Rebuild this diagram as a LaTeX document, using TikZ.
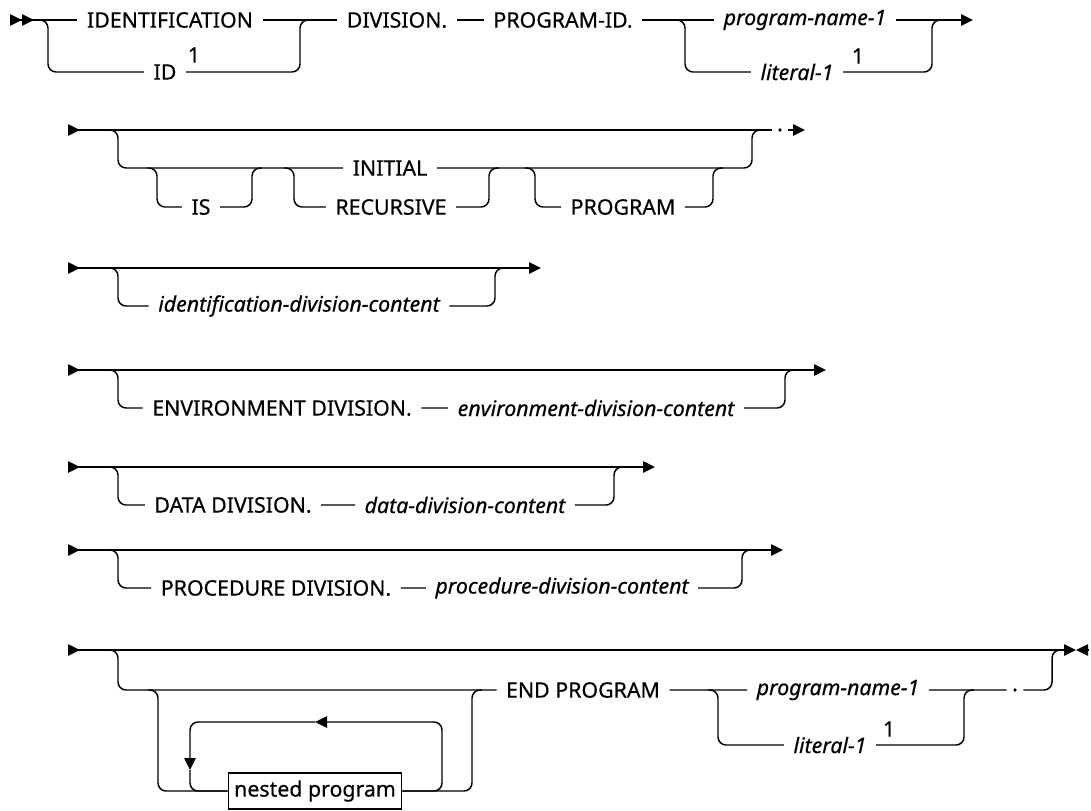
\documentclass[tikz,border=0pt]{standalone}
\usepackage{fontspec}
\setmainfont{Noto Sans}[FakeBold=0.5]
\usetikzlibrary{arrows.meta}

\begin{document}
\begin{tikzpicture}[x=0.75pt,y=0.75pt,yscale=-1,xscale=1,
	rail/.style={line width=1.1pt, rounded corners=6pt},
	kw/.style={font=\fontsize{16}{19}\selectfont, inner xsep=7pt, inner ysep=2pt},
	var/.style={kw, font=\fontsize{16}{19}\selectfont\itshape},
	fn/.style={font=\fontsize{16}{19}\selectfont, inner sep=0pt},
	go/.style={-{Triangle[length=9pt,width=8.5pt]}},
	come/.style={{Triangle[length=9pt,width=8.5pt,reversed]}-},
	comego/.style={{Triangle[length=9pt,width=8.5pt,reversed]}-{Triangle[length=9pt,width=8.5pt]}}]
	\useasboundingbox (0,0) rectangle (1091,810);
	% row 1: IDENTIFICATION DIVISION. PROGRAM-ID.
	\coordinate (r1s) at (10,20);
	\coordinate (r1e) at (973,20);
	\node[kw] (idn) at (170,20) {IDENTIFICATION};
	\node[kw] (idd) at (165,72) {ID};
	\node[fn] (n1) at (194,55) {1};
	\node[kw] (div) at (397,20) {DIVISION.};
	\node[kw] (pid) at (563,20) {PROGRAM-ID.};
	\node[var] (pn1) at (805,20) {program-name-1};
	\node[var] (lt1) at (797,72) {literal-1};
	\node[fn] (n2) at (858,56) {1};
	\draw[rail,{Triangle[length=9pt,width=8.5pt,reversed]Triangle[length=9pt,width=8.5pt,reversed]}-] (r1s) -- (idn);
	\draw[rail] (idn) -- (div) -- (pid) -- (pn1);
	\draw[rail,go] (pn1) -- (r1e);
	\coordinate (b1) at (38,20);
	\coordinate (b1d) at (48,72);
	\coordinate (b2) at (300,20);
	\coordinate (b2r) at (310,20);
	\draw[rail] (b1) -| (b1d) -- (idd);
	\draw[rail] (idd) -| (b2) -- (b2r);
	\coordinate (b3) at (675,20);
	\coordinate (b3d) at (685,72);
	\coordinate (b4) at (932,20);
	\coordinate (b4r) at (942,20);
	\draw[rail] (b3) -| (b3d) -- (lt1);
	\draw[rail] (lt1) -| (b4) -- (b4r);
	% row 2: INITIAL / RECURSIVE
	\coordinate (r2s) at (68,130);
	\coordinate (r2e) at (805,130);
	\node[kw,inner xsep=4pt] (dt1) at (780,130) {.};
	\draw[rail,come] (r2s) -- (dt1);
	\draw[rail,go] (dt1) -- (r2e);
	\node[kw] (ini) at (390,168) {INITIAL};
	\node[kw] (is) at (201,207) {IS};
	\node[kw] (rec) at (391,207) {RECURSIVE};
	\node[kw] (prg) at (623,207) {PROGRAM};
	\coordinate (c1) at (108,130);
	\coordinate (c1d) at (118,168);
	\coordinate (c2) at (752,130);
	\coordinate (c2r) at (762,130);
	\draw[rail] (c1) -| (c1d) -- (ini);
	\draw[rail] (ini) -| (c2) -- (c2r);
	\coordinate (c3) at (147,168);
	\coordinate (c3d) at (157,207);
	\coordinate (c4) at (252,168);
	\coordinate (c4r) at (262,168);
	\draw[rail] (c3) -| (c3d) -- (is) -| (c4) -- (c4r);
	\coordinate (c5) at (284,168);
	\coordinate (c5d) at (294,207);
	\coordinate (c6) at (489,168);
	\coordinate (c6r) at (499,168);
	\draw[rail] (c5) -| (c5d) -- (rec) -| (c6) -- (c6r);
	\coordinate (c7) at (525,168);
	\coordinate (c7d) at (535,207);
	\coordinate (c8) at (713,168);
	\coordinate (c8r) at (723,168);
	\draw[rail] (c7) -| (c7d) -- (prg) -| (c8) -- (c8r);
	% row 3
	\coordinate (r3s) at (68,268);
	\coordinate (r3e) at (541,268);
	\draw[rail,comego] (r3s) -- (r3e);
	\node[var] (idc) at (299,306) {identification-division-content};
	\coordinate (d1) at (108,268);
	\coordinate (d1d) at (118,306);
	\coordinate (d2) at (495,268);
	\coordinate (d2r) at (505,268);
	\draw[rail] (d1) -| (d1d) -- (idc) -| (d2) -- (d2r);
	% row 4
	\coordinate (r4s) at (68,370);
	\coordinate (r4e) at (826,370);
	\draw[rail,comego] (r4s) -- (r4e);
	\node[kw] (env) at (282,408) {ENVIRONMENT DIVISION.};
	\node[var] (envc) at (596,408) {environment-division-content};
	\coordinate (e1) at (108,370);
	\coordinate (e1d) at (118,408);
	\coordinate (e2) at (785,370);
	\coordinate (e2r) at (795,370);
	\draw[rail] (e1) -| (e1d) -- (env) -- (envc) -| (e2) -- (e2r);
	% row 5
	\coordinate (r5s) at (68,467);
	\coordinate (r5e) at (655,467);
	\draw[rail,comego] (r5s) -- (r5e);
	\node[kw] (dat) at (233,505) {DATA DIVISION.};
	\node[var] (datc) at (465,505) {data-division-content};
	\coordinate (f1) at (108,467);
	\coordinate (f1d) at (118,505);
	\coordinate (f2) at (614,467);
	\coordinate (f2r) at (624,467);
	\draw[rail] (f1) -| (f1d) -- (dat) -- (datc) -| (f2) -- (f2r);
	% row 6
	\coordinate (r6s) at (68,550);
	\coordinate (r6e) at (783,550);
	\draw[rail,comego] (r6s) -- (r6e);
	\node[kw] (prc) at (276,588) {PROCEDURE DIVISION.};
	\node[var] (prcc) at (562,588) {procedure-division-content};
	\coordinate (g1) at (108,550);
	\coordinate (g1d) at (118,588);
	\coordinate (g2) at (742,550);
	\coordinate (g2r) at (752,550);
	\draw[rail] (g1) -| (g1d) -- (prc) -- (prcc) -| (g2) -- (g2r);
	% row 8: nested programs and END PROGRAM
	\coordinate (r8s) at (68,650);
	\coordinate (r8e) at (1076,650);
	\coordinate (r8x) at (1088,650);
	\draw[rail,comego] (r8s) -- (r8e);
	\draw[rail,go] (r8x) -- (r8e);
	\node[kw] (enp) at (583,690) {END PROGRAM};
	\node[var] (pn2) at (838,690) {program-name-1};
	\node[kw,inner xsep=4pt] (dt2) at (1015,690) {.};
	\node[var] (lt2) at (830,745) {literal-1};
	\node[fn] (n3) at (889,729) {1};
	\node[draw, line width=0.9pt, font=\fontsize{16}{19}\selectfont, minimum width=130pt, minimum height=27pt, inner sep=2pt] (nst) at (315,791) {nested program};
	\coordinate (h1) at (108,650);
	\coordinate (h1d) at (118,690);
	\coordinate (h2) at (1052,650);
	\coordinate (h2r) at (1062,650);
	\draw[rail] (h1) -| (h1d) -- (enp);
	\draw[rail] (enp) -- (pn2) -- (dt2) -| (h2) -- (h2r);
	\coordinate (h3) at (708,690);
	\coordinate (h3d) at (718,745);
	\coordinate (h4) at (964,690);
	\coordinate (h4r) at (974,690);
	\draw[rail] (h3) -| (h3d) -- (lt2) -| (h4) -- (h4r);
	\coordinate (k1) at (148,690);
	\coordinate (k1d) at (158,791);
	\coordinate (k2) at (472,690);
	\coordinate (k2r) at (482,690);
	\draw[rail] (k1) -| (k1d) -- (nst) -| (k2) -- (k2r);
	\coordinate (lp1) at (442,722);
	\coordinate (lp2) at (315,722);
	\coordinate (lp3) at (190,770);
	\draw[rail,go] (nst) -| (lp1) -- (lp2);
	\draw[rail,go] (lp2) -| (lp3);
	\draw[rail] (lp3) |- (nst);
\end{tikzpicture}
\end{document}
